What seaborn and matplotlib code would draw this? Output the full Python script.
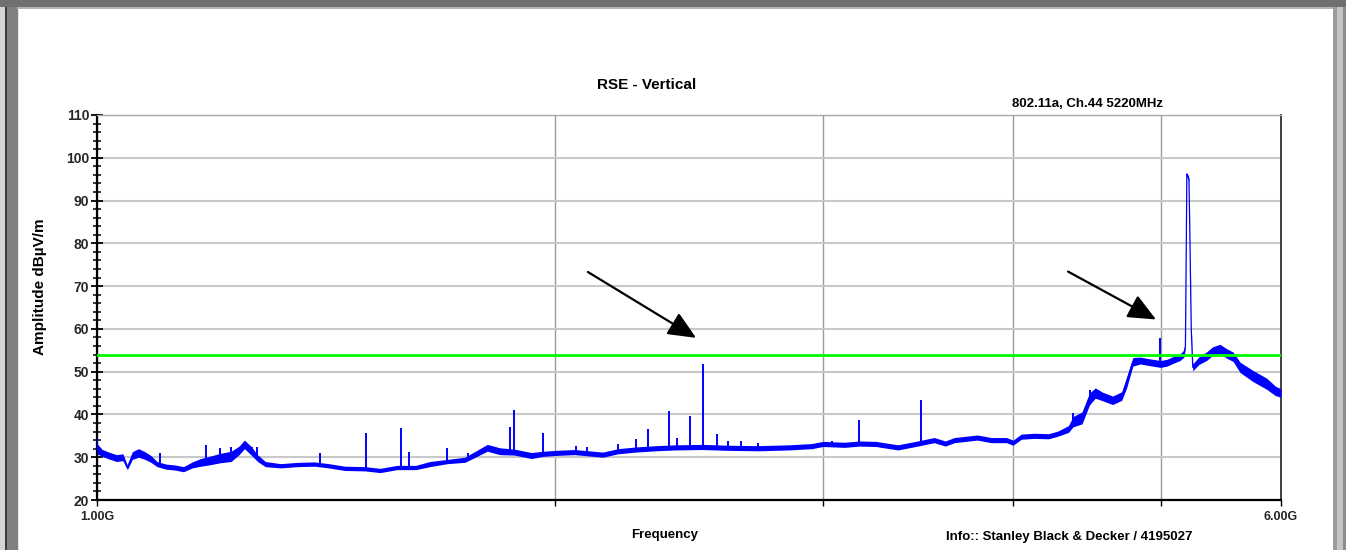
import numpy as np
import pandas as pd
import matplotlib
matplotlib.use("Agg")
import matplotlib.pyplot as plt
from matplotlib.patches import Rectangle
from matplotlib.ticker import FixedLocator, FixedFormatter, MultipleLocator, NullLocator
import seaborn as sns

# noise floor of the scan: frequency (GHz), level (dBuV/m), half width of the noise band (dB)
freq_ghz = [1.000, 1.008, 1.018, 1.030, 1.040, 1.047, 1.055, 1.065, 1.075, 1.085,
            1.095, 1.110, 1.125, 1.140, 1.155, 1.170, 1.185, 1.205, 1.225, 1.240,
            1.250, 1.262, 1.275, 1.290, 1.320, 1.355, 1.390, 1.420, 1.455, 1.500,
            1.535, 1.575, 1.620, 1.655, 1.700, 1.745, 1.775, 1.805, 1.840, 1.880,
            1.930, 1.965, 2.000, 2.060, 2.150, 2.200, 2.260, 2.330, 2.400, 2.500,
            2.600, 2.720, 2.850, 2.950, 3.000, 3.100, 3.170, 3.250, 3.360, 3.440,
            3.550, 3.610, 3.660, 3.790, 3.870, 3.960, 4.000, 4.050, 4.130, 4.220,
            4.280, 4.350, 4.380, 4.440, 4.490, 4.530, 4.580, 4.650, 4.715, 4.750,
            4.795, 4.850, 4.920, 5.000, 5.050, 5.100, 5.150, 5.180, 5.192, 5.199,
            5.203, 5.212, 5.220, 5.228, 5.238, 5.250, 5.300, 5.360, 5.410, 5.470,
            5.530, 5.580, 5.640, 5.750, 5.870, 5.950, 6.000]
level_db = [32.0, 31.0, 30.4, 29.8, 30.0, 27.6, 30.4, 31.0, 30.4, 29.6,
            28.4, 27.8, 27.6, 27.2, 28.2, 28.8, 29.2, 29.8, 30.2, 31.6,
            33.0, 31.6, 29.8, 28.4, 28.0, 28.3, 28.4, 28.0, 27.4, 27.3,
            26.9, 27.6, 27.6, 28.4, 29.0, 29.4, 30.8, 32.2, 31.4, 31.2,
            30.4, 30.8, 31.0, 31.2, 30.6, 31.4, 31.8, 32.1, 32.3, 32.4,
            32.2, 32.1, 32.3, 32.6, 33.1, 32.9, 33.2, 33.1, 32.3, 33.0,
            34.0, 33.2, 34.0, 34.6, 34.0, 34.0, 33.4, 34.8, 35.0, 34.9,
            35.5, 36.6, 38.3, 39.2, 43.6, 45.0, 44.2, 43.3, 44.3, 47.5,
            52.3, 52.6, 52.2, 51.8, 52.1, 52.8, 53.4, 54.2, 56.0, 80.0,
            96.2, 95.6, 94.8, 80.0, 60.0, 51.0, 52.6, 53.6, 54.8, 55.3,
            54.2, 53.5, 51.0, 49.0, 47.2, 45.5, 45.0]
spread_db = [1.2, 0.8, 0.8, 0.8, 0.8, 0.5, 0.9, 1.0, 0.9, 0.8,
             0.6, 0.6, 0.6, 0.6, 0.7, 0.9, 1.0, 1.1, 1.2, 1.0,
             1.0, 1.0, 0.8, 0.6, 0.5, 0.5, 0.5, 0.5, 0.5, 0.5,
             0.5, 0.5, 0.5, 0.6, 0.5, 0.6, 0.7, 0.8, 0.8, 0.7,
             0.7, 0.6, 0.6, 0.6, 0.6, 0.6, 0.6, 0.6, 0.6, 0.6,
             0.6, 0.6, 0.6, 0.6, 0.6, 0.6, 0.6, 0.6, 0.6, 0.6,
             0.6, 0.6, 0.6, 0.6, 0.6, 0.6, 0.6, 0.6, 0.6, 0.6,
             0.6, 0.8, 1.2, 1.4, 1.4, 1.2, 1.0, 1.0, 1.0, 1.3,
             1.0, 0.8, 0.8, 0.8, 0.8, 0.8, 0.8, 0.8, 0.4, 0.4,
             0.4, 0.4, 0.4, 0.4, 0.4, 0.8, 0.9, 1.0, 1.0, 1.1,
             1.1, 1.1, 1.2, 1.3, 1.3, 1.1, 1.0]

# narrow spurs sticking out of the noise floor
spike_freq = [1.000, 1.100, 1.180, 1.205, 1.225, 1.265, 1.274, 1.401, 1.502, 1.584,
              1.603, 1.698, 1.753, 1.868, 1.880, 1.964, 2.065, 2.099, 2.200, 2.261,
              2.302, 2.377, 2.405, 2.453, 2.501, 2.554, 2.598, 2.650, 2.719, 3.041,
              3.168, 3.478, 4.380, 4.494, 4.997]
spike_top = [34.5, 31.0, 32.9, 32.2, 32.4, 32.5, 32.3, 31.0, 35.6, 36.8,
             31.2, 32.2, 31.0, 37.1, 41.0, 35.6, 32.6, 32.4, 33.0, 34.2,
             36.5, 40.8, 34.5, 39.6, 51.7, 35.4, 33.8, 33.8, 33.3, 33.8,
             38.7, 43.4, 40.3, 45.7, 57.8]

limit_db = 54
x_ticks = [1, 2, 3, 4, 5, 6]
x_tick_labels = ["1.00G", "", "", "", "", "6.00G"]

# annotation arrows (tail -> head), in GHz / dB
arrow_tail = [(2.102, 73.3), (4.347, 73.4)]
arrow_head = [(2.476, 57.9), (4.966, 62.2)]

W, H = 1346, 550
sns.set_theme(style="white")
plt.rcParams['font.family'] = ['Liberation Sans', 'DejaVu Sans']
plt.rcParams['font.weight'] = 'bold'

fig = plt.figure(figsize=(W / 100, H / 100), dpi=100)
fig.patch.set_facecolor('white')
ax = fig.add_axes([97 / W, 1 - 500 / H, (1281 - 97) / W, (500 - 115) / H])

blue = '#0000ff'
df = pd.DataFrame({'freq': freq_ghz, 'level': level_db, 'spread': spread_db})
ax.fill_between(df['freq'], df['level'] - df['spread'], df['level'] + df['spread'],
                color=blue, lw=0, zorder=3)
sns.lineplot(data=df, x='freq', y='level', ax=ax, color=blue, lw=0.9,
             estimator=None, zorder=4)
base = np.interp(spike_freq, freq_ghz, level_db)
ax.vlines(spike_freq, base, spike_top, color=blue, lw=1.4, zorder=4)

ax.axhline(limit_db, color='#00ff00', lw=2, zorder=5)

for tail, head in zip(arrow_tail, arrow_head):
    ax.annotate("", xy=head, xytext=tail,
                arrowprops=dict(arrowstyle='-|>,head_length=0.9,head_width=0.4',
                                color='black', lw=1.6, mutation_scale=19,
                                shrinkA=0, shrinkB=0), zorder=6)

ax.set_xscale('log')
ax.set_xlim(1, 6)
ax.set_ylim(20, 110)
ax.xaxis.set_major_locator(FixedLocator(x_ticks))
ax.xaxis.set_major_formatter(FixedFormatter(x_tick_labels))
ax.xaxis.set_minor_locator(NullLocator())
ax.yaxis.set_major_locator(MultipleLocator(10))
ax.yaxis.set_minor_locator(MultipleLocator(2))
ax.tick_params(axis='y', which='major', direction='inout', length=9, width=1.3,
               color='black', labelsize=10, pad=1, left=True)
ax.tick_params(axis='y', which='minor', direction='inout', length=6, width=1.1,
               color='black', left=True)
ax.tick_params(axis='x', which='major', direction='out', length=4, width=1,
               color='black', labelsize=9, pad=4, bottom=True)
for lab in ax.get_xticklabels() + ax.get_yticklabels():
    lab.set_fontweight('bold')

ax.grid(axis='y', which='major', color='#c8c8c8', lw=1.5, zorder=0)
ax.grid(axis='x', which='major', color='#9a9a9a', lw=1.0, zorder=0)
ax.set_axisbelow(True)
ax.set_xlabel("")
ax.set_ylabel("")
for side, col, w in [('left', 'black', 1.6), ('bottom', 'black', 1.6),
                     ('top', '#a8a8a8', 1.0), ('right', '#404040', 1.4)]:
    ax.spines[side].set_visible(True)
    ax.spines[side].set_color(col)
    ax.spines[side].set_linewidth(w)

txt = dict(fontweight='bold', color='black', ha='center', va='center')
fig.text(647 / W, 1 - 85 / H, "RSE - Vertical", fontsize=11, **txt)
fig.text(1088 / W, 1 - 104 / H, "802.11a, Ch.44 5220MHz", fontsize=9.5, **txt)
fig.text(665 / W, 1 - 535 / H, "Frequency", fontsize=9.5, **txt)
fig.text(1069 / W, 1 - 537 / H, "Info:: Stanley Black & Decker / 4195027", fontsize=9.5, **txt)
fig.text(40 / W, 1 - 287 / H, "Amplitude dBµV/m", fontsize=11, rotation=90, **txt)

# window frame of the report page
def frame(x, y, w, h, color):
    fig.add_artist(Rectangle((x / W, 1 - (y + h) / H), w / W, h / H,
                             transform=fig.transFigure, color=color, lw=0))

frame(0, 0, 5, H, '#d4d4d4')
frame(5, 0, 1.5, H, '#3c3c3c')
frame(6.5, 0, 11, H, '#808080')
frame(17.5, 8, 1, H, '#e6e6e6')
frame(1333, 0, 4, H, '#9c9c9c')
frame(1337, 0, 6, H, '#c4c4c4')
frame(1343, 0, 3, H, '#8c8c8c')
frame(0, 0, W, 7, '#707070')
frame(17, 7, 1316, 1.5, '#b4b4b4')

fig.savefig("out.png", dpi=100)
